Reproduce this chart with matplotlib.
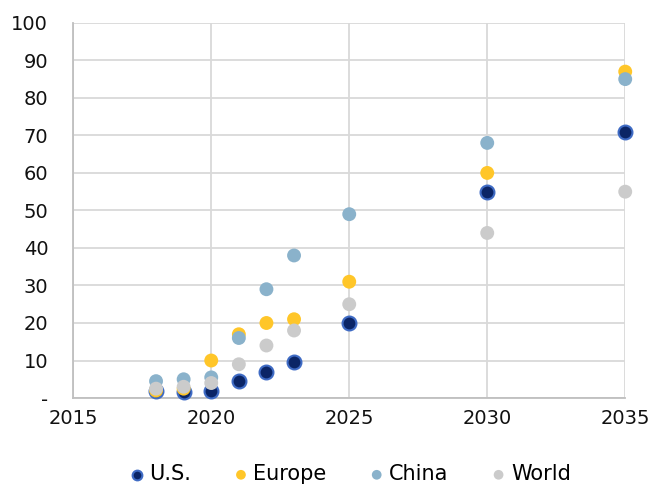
import matplotlib
matplotlib.use('Agg')
import matplotlib.pyplot as plt

plt.rcParams['font.family'] = ['DejaVu Sans']

# データ
years = [2018, 2019, 2020, 2021, 2022, 2023, 2025, 2030, 2035]
us = [2, 1.5, 2, 4.5, 7, 9.5, 20, 55, 71]
europe = [2, 2.5, 10, 17, 20, 21, 31, 60, 87]
china = [4.5, 5, 5.5, 16, 29, 38, 49, 68, 85]
world = [2.5, 3, 4, 9, 14, 18, 25, 44, 55]

fig = plt.figure(figsize=(6.54, 4.86), dpi=100)
ax = fig.add_axes([0.112, 0.181, 0.844, 0.772])

s = 100
ax.scatter(years, us, s=s, color='#0B2566', edgecolors='#3F6BC4', linewidths=1.5, label='U.S.', zorder=3, clip_on=False)
ax.scatter(years, europe, s=s, color='#FFC629', edgecolors='none', label='Europe', zorder=3, clip_on=False)
ax.scatter(years, china, s=s, color='#8AB2CB', edgecolors='none', label='China', zorder=3, clip_on=False)
ax.scatter(years, world, s=s, color='#CBCBCB', edgecolors='none', label='World', zorder=3, clip_on=False)

ax.set_xlim(2015, 2035)
ax.set_ylim(0, 100)
ax.set_xticks(range(2015, 2036, 5))
ax.set_yticks(range(0, 101, 10))
ax.set_yticklabels(['-'] + [str(v) for v in range(10, 101, 10)])
ax.grid(True, color='#D9D9D9', linewidth=1.3)
ax.set_axisbelow(True)
for side in ['top', 'right']:
    ax.spines[side].set_visible(False)
for side in ['left', 'bottom']:
    ax.spines[side].set_color('#BFBFBF')
    ax.spines[side].set_linewidth(1.3)
ax.tick_params(length=0, labelsize=14, colors='#111111')
ax.tick_params(axis='x', pad=8)
ax.tick_params(axis='y', pad=18)

fig.legend(loc='lower center', ncol=4, frameon=False, fontsize=15, markerscale=0.7,
           handletextpad=-0.4, columnspacing=1.4, bbox_to_anchor=(0.525, -0.035))

plt.savefig('out.png')
